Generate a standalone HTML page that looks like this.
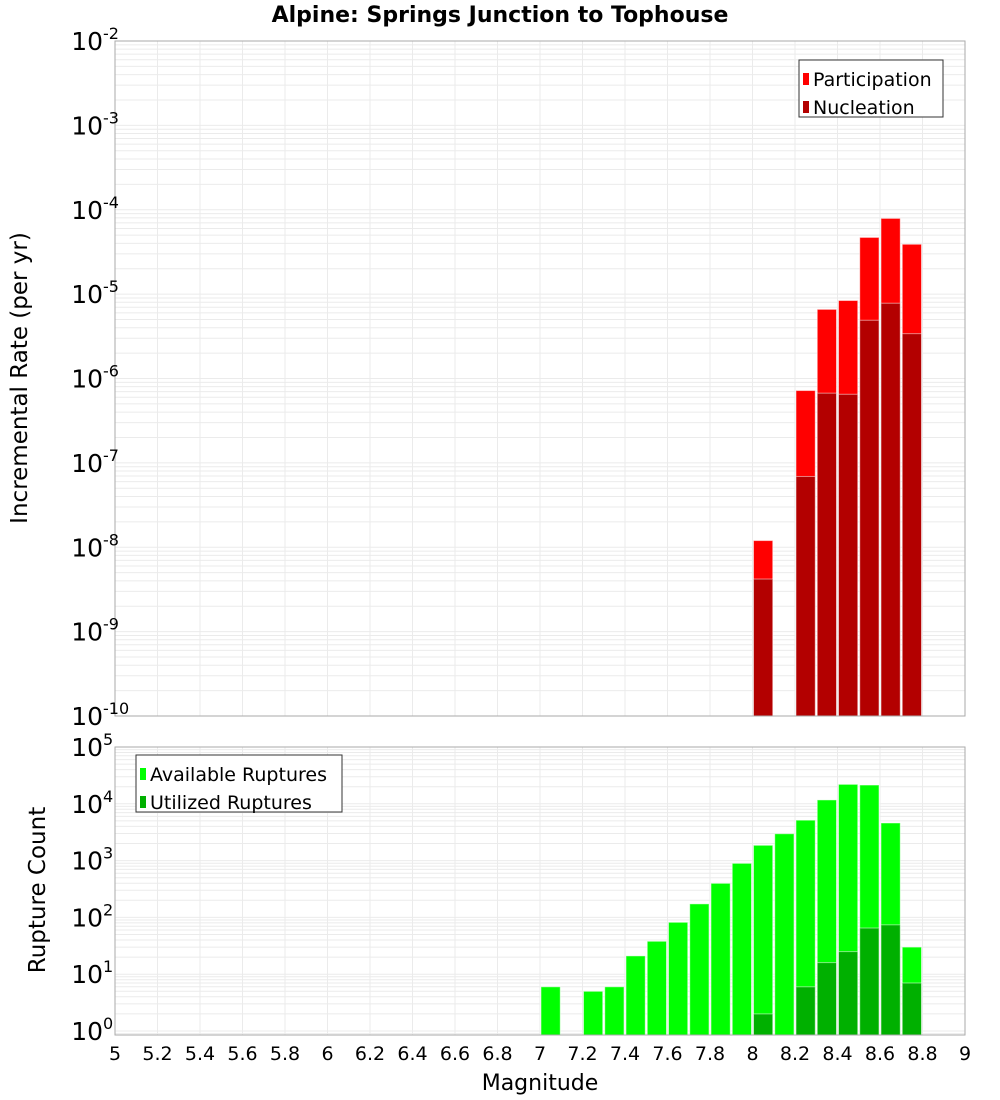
<!DOCTYPE html>
<html><head><meta charset="utf-8"><style>
body{margin:0;background:#fff}
svg{display:block;font-family:"DejaVu Sans","Liberation Sans",sans-serif}
</style></head><body>
<svg id="c" width="1000" height="1100" viewBox="0 0 1000 1100" xmlns="http://www.w3.org/2000/svg">
<text x="500" y="22" text-anchor="middle" font-size="22" font-weight="bold">Alpine: Springs Junction to Tophouse</text>
<g id="top"></g>
<g id="bot"></g>
<text transform="translate(27,378) rotate(-90)" text-anchor="middle" font-size="23">Incremental Rate (per yr)</text>
<text transform="translate(45,890) rotate(-90)" text-anchor="middle" font-size="23">Rupture Count</text>
<text x="540" y="1090" text-anchor="middle" font-size="22">Magnitude</text>
</svg>
<script>
const rateMags=[8.0,8.2,8.3,8.4,8.5,8.6,8.7];
const participation=[1.2e-8,7.2e-7,6.6e-6,8.4e-6,4.7e-5,7.9e-5,3.9e-5];
const nucleation=[4.2e-9,6.9e-8,6.7e-7,6.5e-7,4.9e-6,7.8e-6,3.4e-6];
const countMags=[7.0,7.2,7.3,7.4,7.5,7.6,7.7,7.8,7.9,8.0,8.1,8.2,8.3,8.4,8.5,8.6,8.7];
const available=[6,5,6,21,38,82,173,398,895,1860,2970,5150,11700,22000,21400,4600,30];
const utilMags=[8.0,8.2,8.3,8.4,8.5,8.6,8.7];
const utilized=[2,6,16,25,65,74,7];
const xTicks=[5,5.2,5.4,5.6,5.8,6,6.2,6.4,6.6,6.8,7,7.2,7.4,7.6,7.8,8,8.2,8.4,8.6,8.8,9];
const topExp=[-2,-3,-4,-5,-6,-7,-8,-9,-10];
const botExp=[5,4,3,2,1,0];

const NS="http://www.w3.org/2000/svg";
const L=115,R=965;
const X=m=>L+(m-5)/4*(R-L);
const yTop=v=>41+(-2-Math.log10(v))*84.375;
const yBot=v=>1031-Math.log10(v)*56.8;
function mk(p,t,a){const e=document.createElementNS(NS,t);for(const k in a)e.setAttribute(k,a[k]);p.appendChild(e);return e;}

function grid(g,y0,y1,ys,lo,hi){
  mk(g,'rect',{x:L,y:y0,width:R-L,height:y1-y0,fill:'#fff'});
  for(let e=lo;e<hi;e++)for(let k=1;k<10;k++){const y=ys(k*Math.pow(10,e));if(y<y0||y>y1)continue;
    const ln=mk(g,'line',{x1:L,x2:R,y1:y,y2:y,stroke:'#ebebeb','stroke-width':1});
    }
  xTicks.forEach(t=>{const ln=mk(g,'line',{x1:X(t),x2:X(t),y1:y0,y2:y1,stroke:'#ebebeb','stroke-width':1});
    });
}
function bars(g,mags,vals,ys,base,col,name){
  mags.forEach((m,i)=>{const y=ys(vals[i]);
    const r=mk(g,'rect',{x:X(m)+1,y:y,width:X(m+0.1)-X(m)-2,height:base-y,fill:col,stroke:'rgba(255,255,255,0.5)','stroke-width':1});
    });
}
function ylabels(g,exps,ys){
  exps.forEach(e=>{const y=ys(Math.pow(10,e));
    const t=mk(g,'text',{x:103,y:y+9,'text-anchor':'end','font-size':25});
    
    t.textContent='10';
    const s=mk(g,'text',{x:103,y:y-2,'font-size':16});
    
    s.textContent=String(e);});
}
function legend(g,x,y,w,items){
  const b=mk(g,'rect',{x:x,y:y,width:w,height:57,fill:'#fff',stroke:'#333','stroke-width':1});
  
  items.forEach((it,i)=>{const yy=y+20+i*28;
    const sw=mk(g,'rect',{x:x+4,y:yy-7,width:6,height:12,fill:it[1]});
    
    const t=mk(g,'text',{x:x+14,y:yy+6,'font-size':19});
    
    t.textContent=it[0];});
}
const gt=document.getElementById('top'),gb=document.getElementById('bot');
grid(gt,41,716,yTop,-10,-2);
bars(gt,rateMags,participation,yTop,716,'#ff0000','participation-bar');
bars(gt,rateMags,nucleation,yTop,716,'#b30000','nucleation-bar');
mk(gt,'rect',{x:L,y:41,width:R-L,height:675,fill:'none',stroke:'#aaa','stroke-width':1});
ylabels(gt,topExp,yTop);
legend(gt,799,60,144,[['Participation','#ff0000'],['Nucleation','#b30000']]);

grid(gb,747,1035,yBot,-1,5);
bars(gb,countMags,available,yBot,1035,'#00ff00','available-bar');
bars(gb,utilMags,utilized,yBot,1035,'#00b000','utilized-bar');
mk(gb,'rect',{x:L,y:747,width:R-L,height:288,fill:'none',stroke:'#aaa','stroke-width':1});
ylabels(gb,botExp,yBot);
legend(gb,136,755,206,[['Available Ruptures','#00ff00'],['Utilized Ruptures','#00b000']]);

xTicks.forEach(t=>{const e=mk(gb,'text',{x:X(t),y:1060,'text-anchor':'middle','font-size':19});
  
  e.textContent=String(t);});
</script>
</body></html>
